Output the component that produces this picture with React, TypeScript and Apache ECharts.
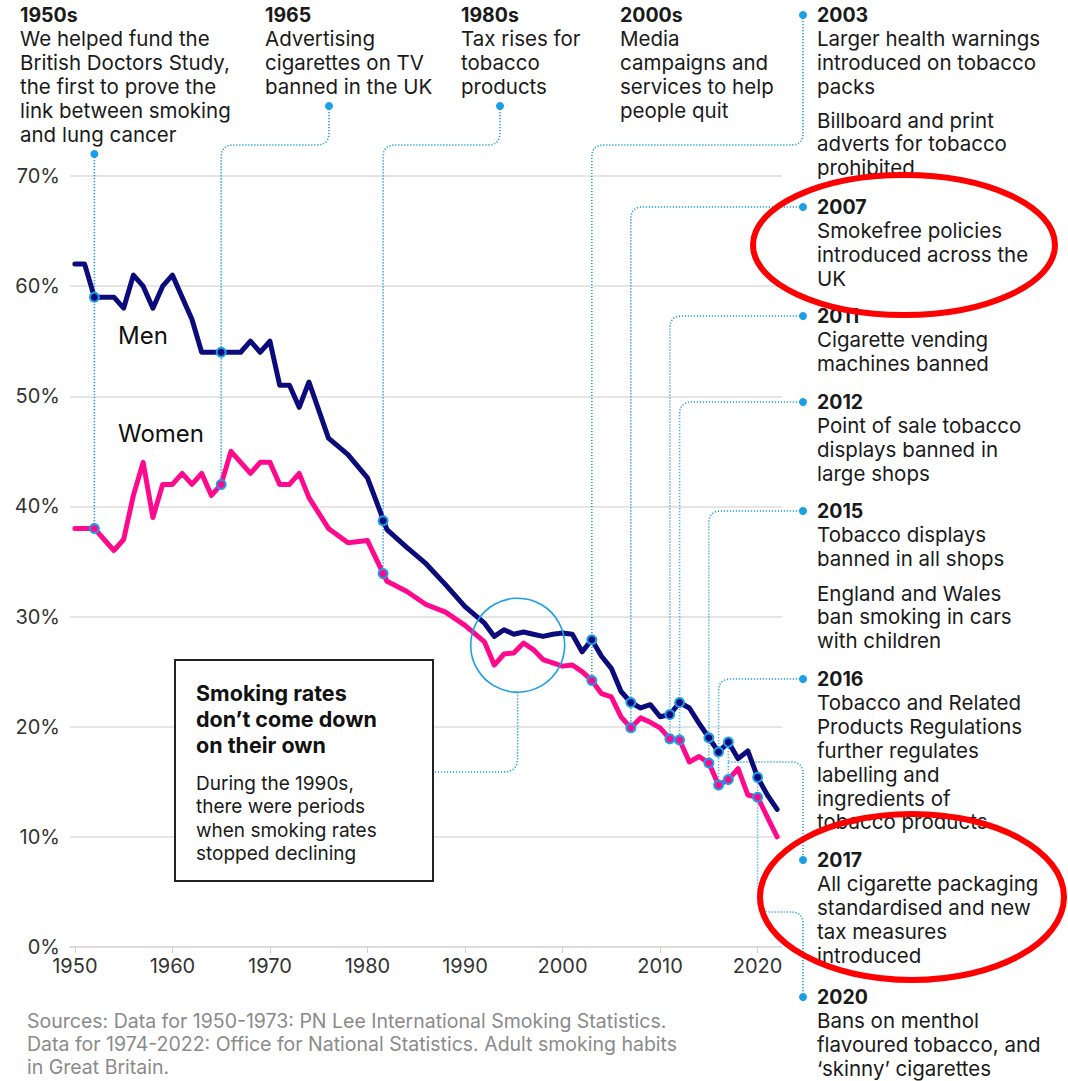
import React, { useEffect, useRef } from 'react';
import * as echarts from 'echarts';

// ---- data ----
const years = [
  1950, 1951, 1952, 1953, 1954, 1955, 1956, 1957, 1958, 1959,
  1960, 1961, 1962, 1963, 1964, 1965, 1966, 1967, 1968, 1969,
  1970, 1971, 1972, 1973, 1974, 1976, 1978, 1980, 1982, 1984,
  1986, 1988, 1990, 1992, 1993, 1994, 1995, 1996, 1997, 1998,
  1999, 2000, 2001, 2002, 2003, 2004, 2005, 2006, 2007, 2008,
  2009, 2010, 2011, 2012, 2013, 2014, 2015, 2016, 2017, 2018,
  2019, 2020, 2021, 2022,
];
const menValues = [
  62, 62, 59, 59, 59, 58, 61, 60, 58, 60,
  61, 59, 57, 54, 54, 54, 54, 54, 55, 54,
  55, 51, 51, 49, 51.3, 46.2, 44.7, 42.6, 37.9, 36.3,
  34.8, 32.9, 30.9, 29.4, 28.2, 28.8, 28.4, 28.6, 28.4, 28.2,
  28.4, 28.5, 28.4, 26.8, 27.9, 26.4, 25.3, 23.2, 22.2, 21.7,
  22.0, 20.9, 21.1, 22.2, 21.7, 20.3, 19.0, 17.7, 18.6, 17.1,
  17.8, 15.4, 13.8, 12.5,
];
const womenValues = [
  38, 38, 38, 37, 36, 37, 41, 44, 39, 42,
  42, 43, 42, 43, 41, 42, 45, 44, 43, 44,
  44, 42, 42, 43, 40.8, 38.0, 36.7, 36.9, 33.2, 32.3,
  31.1, 30.4, 29.2, 27.7, 25.6, 26.6, 26.7, 27.6, 27.0, 26.1,
  25.8, 25.5, 25.6, 25.0, 24.2, 23.0, 22.7, 20.9, 19.9, 20.8,
  20.4, 19.9, 18.9, 18.8, 16.8, 17.3, 16.7, 14.7, 15.2, 16.2,
  13.8, 13.6, 11.8, 10.0,
];
const markerYears = [1952, 1965, 1981.6, 2003, 2007, 2011, 2012, 2015, 2016, 2017, 2020];
const menMarkers = [59, 54, 38.7, 27.9, 22.2, 21.1, 22.2, 19.0, 17.7, 18.6, 15.4];
const womenMarkers = [38, 42, 33.9, 24.2, 19.9, 18.9, 18.8, 16.7, 14.7, 15.2, 13.6];
const xTicks = [1950, 1960, 1970, 1980, 1990, 2000, 2010, 2020];
const highlightYear = 1995.4;
const highlightValue = 27.4;

// ---- annotation texts ----
const topNotes = [
  { x: 20, head: '1950s', lines: ['We helped fund the', 'British Doctors Study,', 'the first to prove the', 'link between smoking', 'and lung cancer'] },
  { x: 265, head: '1965', lines: ['Advertising', 'cigarettes on TV', 'banned in the UK'] },
  { x: 461, head: '1980s', lines: ['Tax rises for', 'tobacco', 'products'] },
  { x: 620, head: '2000s', lines: ['Media', 'campaigns and', 'services to help', 'people quit'] },
];
const sideNotes = [
  { y: 15, head: '2003', lines: ['Larger health warnings', 'introduced on tobacco', 'packs'] },
  { y: 120, head: '', lines: ['Billboard and print', 'adverts for tobacco', 'prohibited'] },
  { y: 207, head: '2007', lines: ['Smokefree policies', 'introduced across the', 'UK'] },
  { y: 316, head: '2011', lines: ['Cigarette vending', 'machines banned'] },
  { y: 402, head: '2012', lines: ['Point of sale tobacco', 'displays banned in', 'large shops'] },
  { y: 511, head: '2015', lines: ['Tobacco displays', 'banned in all shops'] },
  { y: 593, head: '', lines: ['England and Wales', 'ban smoking in cars', 'with children'] },
  { y: 679, head: '2016', lines: ['Tobacco and Related', 'Products Regulations', 'further regulates', 'labelling and', 'ingredients of', 'tobacco products'] },
  { y: 860, head: '2017', lines: ['All cigarette packaging', 'standardised and new', 'tax measures', 'introduced'] },
  { y: 997, head: '2020', lines: ['Bans on menthol', 'flavoured tobacco, and', '\u2018skinny\u2019 cigarettes'] },
];
const boxTitle = ['Smoking rates', 'don\u2019t come down', 'on their own'];
const boxBody = ['During the 1990s,', 'there were periods', 'when smoking rates', 'stopped declining'];
const sources = [
  'Sources: Data for 1950-1973: PN Lee International Smoking Statistics.',
  'Data for 1974-2022: Office for National Statistics. Adult smoking habits',
  'in Great Britain.',
];

const FONT = 'Inter, "Noto Sans", sans-serif';
const MEN = '#0c0b7b';
const WOMEN = '#ff0a8c';
const ACCENT = '#1a9ee6';
const LH = 23.8;

function rounded(pts: number[][], r = 12): number[][] {
  const out: number[][] = [pts[0]];
  for (let i = 1; i < pts.length - 1; i++) {
    const [x0, y0] = pts[i - 1];
    const [x1, y1] = pts[i];
    const [x2, y2] = pts[i + 1];
    const d1 = Math.hypot(x1 - x0, y1 - y0) || 1;
    const d2 = Math.hypot(x2 - x1, y2 - y1) || 1;
    const rr = Math.min(r, d1 / 2, d2 / 2);
    const ax = x1 + ((x0 - x1) / d1) * rr;
    const ay = y1 + ((y0 - y1) / d1) * rr;
    const bx = x1 + ((x2 - x1) / d2) * rr;
    const by = y1 + ((y2 - y1) / d2) * rr;
    for (let k = 0; k <= 8; k++) {
      const t = k / 8;
      const u = 1 - t;
      out.push([u * u * ax + 2 * u * t * x1 + t * t * bx, u * u * ay + 2 * u * t * y1 + t * t * by]);
    }
  }
  out.push(pts[pts.length - 1]);
  return out;
}

export default function App() {
  const ref = useRef<HTMLDivElement>(null);
  useEffect(() => {
    document.body.style.margin = '0';
    const chart = echarts.init(ref.current!, null, { renderer: 'svg' });
    const menData = years.map((y, i) => [y, menValues[i]]);
    const womenData = years.map((y, i) => [y, womenValues[i]]);
    chart.setOption({
      animation: false,
      backgroundColor: '#ffffff',
      grid: { left: 70, top: 176, width: 712, height: 771, containLabel: false },
      xAxis: {
        type: 'value',
        min: 1949.5,
        max: 2022.5,
        splitLine: { show: false },
        axisLine: { show: true, lineStyle: { color: '#d9d9d9', width: 1.5 } },
        axisTick: { show: true, length: 6, lineStyle: { color: '#d0d0d0', width: 1 }, customValues: xTicks },
        axisLabel: {
          customValues: xTicks,
          margin: 9,
          color: '#333333',
          fontSize: 20,
          fontFamily: FONT,
          formatter: (v: number) => (v % 10 === 0 ? String(v) : ''),
        },
      },
      yAxis: {
        type: 'value',
        min: 0,
        max: 70,
        interval: 10,
        axisLine: { show: false },
        axisTick: { show: false },
        splitLine: { show: true, lineStyle: { color: '#dcdcdc', width: 1.5 } },
        axisLabel: { formatter: '{value}%', color: '#333333', fontSize: 20, fontFamily: FONT, margin: 10 },
      },
      series: [
        {
          type: 'line', name: 'Men', data: menData, showSymbol: false, z: 2,
          lineStyle: { color: MEN, width: 5, join: 'round', cap: 'round' }, itemStyle: { color: MEN },
        },
        {
          type: 'line', name: 'Women', data: womenData, showSymbol: false, z: 2,
          lineStyle: { color: WOMEN, width: 5, join: 'round', cap: 'round' }, itemStyle: { color: WOMEN },
        },
        {
          type: 'scatter', data: markerYears.map((y, i) => [y, menMarkers[i]]), symbolSize: 9, z: 4,
          itemStyle: { color: MEN, borderColor: ACCENT, borderWidth: 2, opacity: 1 },
        },
        {
          type: 'scatter', data: markerYears.map((y, i) => [y, womenMarkers[i]]), symbolSize: 9, z: 4,
          itemStyle: { color: WOMEN, borderColor: ACCENT, borderWidth: 2, opacity: 1 },
        },
      ],
    });

    const P = (x: number, y: number) => chart.convertToPixel({ gridIndex: 0 }, [x, y]) as number[];
    const M = markerYears.map((y, i) => P(y, menMarkers[i]));
    const W = markerYears.map((y, i) => P(y, womenMarkers[i]));

    const g: any[] = [];
    const dotStyle = { stroke: ACCENT, lineWidth: 1.6, lineDash: [1.2, 1.8], fill: 'none' };
    const leader = (pts: number[][], r = 12) =>
      g.push({ type: 'polyline', z: 1, silent: true, shape: { points: rounded(pts, r) }, style: dotStyle });
    const dot = (x: number, y: number) =>
      g.push({ type: 'circle', z: 1, shape: { cx: x, cy: y, r: 4 }, style: { fill: ACCENT } });

    const DX = 803;
    // 1950s
    leader([[W[0][0], 154], [W[0][0], W[0][1]]]);
    dot(W[0][0], 154);
    // 1965
    leader([[329, 106], [329, 145], [W[1][0], 145], [W[1][0], W[1][1]]]);
    dot(329, 106);
    // 1980s
    leader([[500, 106], [500, 145], [W[2][0], 145], [W[2][0], W[2][1]]]);
    dot(500, 106);
    // 2003
    leader([[DX, 15], [DX, 145], [W[3][0], 145], [W[3][0], W[3][1]]]);
    dot(DX, 15);
    // side leaders
    const sideY = [207, 316, 402, 511, 679];
    [4, 5, 6, 7, 8].forEach((mi, k) => {
      leader([[DX, sideY[k]], [W[mi][0], sideY[k]], [W[mi][0], W[mi][1]]]);
      dot(DX, sideY[k]);
    });
    // 2017
    leader([[M[9][0], M[9][1]], [M[9][0], W[9][1]]]);
    leader([[M[9][0], 762], [DX, 762], [DX, 860]]);
    dot(DX, 860);
    // 2020
    leader([[M[10][0], M[10][1]], [M[10][0], 912], [DX, 912], [DX, 997]]);
    dot(DX, 997);

    // 1990s highlight circle
    const C = P(highlightYear, highlightValue);
    g.push({ type: 'circle', z: 5, shape: { cx: C[0], cy: C[1], r: 47 }, style: { fill: 'none', stroke: ACCENT, lineWidth: 1.6 } });
    leader([[C[0], C[1] + 47], [C[0], 772], [433, 772]], 14);

    // Men / Women labels
    g.push({ type: 'text', z: 10, style: { text: 'Men', x: 118, y: 335, fill: '#111', font: `24px ${FONT}`, verticalAlign: 'middle' } });
    g.push({ type: 'text', z: 10, style: { text: 'Women', x: 118, y: 433, fill: '#111', font: `24px ${FONT}`, verticalAlign: 'middle' } });

    const txt = (t: string, x: number, y: number, bold: boolean, size = 20.5, fill = '#1a1a1a') =>
      g.push({
        type: 'text', z: 10, silent: true,
        style: { text: t, x, y, fill, font: `${bold ? '700 ' : ''}${size}px ${FONT}`, verticalAlign: 'middle', textAlign: 'left' },
      });

    topNotes.forEach((n) => {
      txt(n.head, n.x, 15, true, 19.5);
      n.lines.forEach((l, i) => txt(l, n.x, 15 + LH * (i + 1), false));
    });
    sideNotes.forEach((n) => {
      let y = n.y;
      if (n.head) { txt(n.head, 817, y, true, 19.5); y += LH; }
      n.lines.forEach((l, i) => txt(l, 817, y + LH * i, false));
    });

    // box
    g.push({ type: 'rect', z: 6, shape: { x: 175, y: 660, width: 258, height: 221 }, style: { fill: '#ffffff', stroke: '#222222', lineWidth: 2 } });
    boxTitle.forEach((l, i) => txt(l, 196, 693 + 26 * i, true, 21.5, '#111'));
    boxBody.forEach((l, i) => txt(l, 196, 783 + 23.5 * i, false, 19, '#1a1a1a'));

    // sources
    sources.forEach((l, i) => txt(l, 27, 1021 + 23 * i, false, 19.5, '#8a8a8a'));

    // red ellipses
    g.push({ type: 'ellipse', z: 100, shape: { cx: 904, cy: 245, rx: 151, ry: 70 }, style: { fill: 'none', stroke: '#ff0000', lineWidth: 6 } });
    g.push({ type: 'ellipse', z: 100, shape: { cx: 912, cy: 897, rx: 152, ry: 83 }, style: { fill: 'none', stroke: '#ff0000', lineWidth: 6 } });

    chart.setOption({ graphic: g });
    return () => chart.dispose();
  }, []);
  return <div ref={ref} style={{ position: 'absolute', left: 0, top: 0, width: 1068, height: 1081 }} />;
}
